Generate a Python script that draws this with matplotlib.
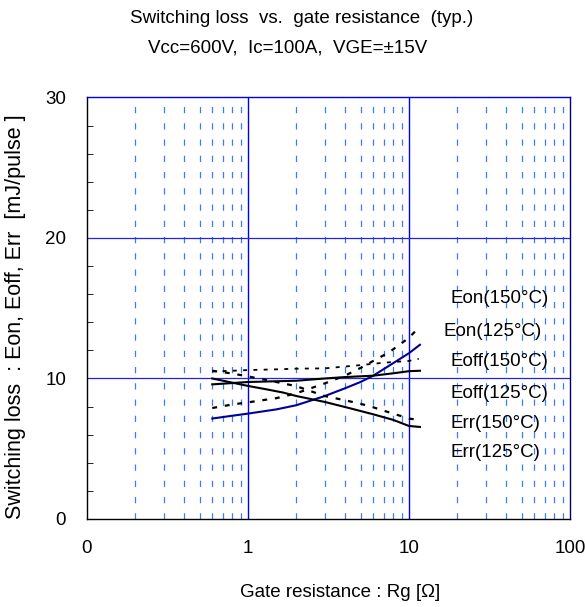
import matplotlib.pyplot as plt
from matplotlib.ticker import FixedLocator, NullFormatter

plt.rcParams['font.family'] = ['Liberation Sans', 'DejaVu Sans']

# Eon 150C (blue solid)
rg_eon150 = [0.6, 0.8, 1, 1.5, 2, 3, 4, 5, 6, 8, 10, 11.7]
eon150 = [7.15, 7.35, 7.5, 7.8, 8.1, 8.75, 9.3, 9.75, 10.2, 11.1, 11.8, 12.4]
# Eon 125C (dotted)
rg_eon125 = [0.6, 0.8, 1, 1.5, 2, 3, 4, 5, 6, 7.5, 10, 11.7]
eon125 = [7.9, 8.15, 8.3, 8.6, 8.95, 9.65, 10.2, 10.75, 11.25, 11.85, 12.9, 13.7]
# Eoff 150C (black solid)
rg_eoff150 = [0.6, 1, 2, 3, 4, 6, 8, 10, 11.7]
eoff150 = [9.58, 9.75, 9.84, 10.0, 10.1, 10.2, 10.37, 10.52, 10.55]
# Eoff 125C (dotted)
rg_eoff125 = [0.6, 0.8, 1, 1.5, 2, 3, 4, 5, 6, 7.5, 10, 11.5]
eoff125 = [10.5, 10.55, 10.6, 10.65, 10.7, 10.72, 10.85, 10.95, 11.05, 11.15, 11.25, 11.4]
# Err 150C (black solid)
rg_err150 = [0.6, 1, 1.3, 1.65, 2, 3, 4.3, 6, 8, 10, 11.7]
err150 = [10.0, 9.47, 9.23, 9.0, 8.75, 8.33, 7.88, 7.45, 7.05, 6.62, 6.55]
# Err 125C (dotted)
rg_err125 = [0.6, 0.8, 1, 1.5, 2, 3, 4, 5, 6, 7, 8.5, 10, 11.5]
err125 = [10.55, 10.35, 10.15, 9.75, 9.45, 8.75, 8.45, 8.2, 7.95, 7.7, 7.4, 7.15, 7.05]

curve_labels = ['Eon(150°C)', 'Eon(125°C)', 'Eoff(150°C)', 'Eoff(125°C)', 'Err(150°C)', 'Err(125°C)']
label_y = [15.7, 13.35, 11.2, 8.95, 6.8, 4.7]
label_x = [18.0, 16.4, 18.0, 18.0, 18.0, 18.0]

xticks = [0.1, 1, 10, 100]
xticklabels = ['0', '1', '10', '100']
yticks = [0, 10, 20, 30]

fig = plt.figure(figsize=(5.85, 6.07), dpi=100)
ax = fig.add_axes([0.1487, 0.145, 0.8256, 0.6944])

ax.set_xscale('log')
ax.set_xlim(0.1, 100)
ax.set_ylim(0, 30)

minor_x = [m * d for d in (0.1, 1, 10) for m in range(2, 10)]
for xv in minor_x:
    ax.axvline(xv, color='#3a7bff', lw=0.9, ls=(0, (5, 8)), zorder=1)
for xv in (1, 10):
    ax.axvline(xv, color='#0000ee', lw=1.0, zorder=1)
for yv in (10, 20):
    ax.axhline(yv, color='#2222ee', lw=0.9, zorder=1)

dot = (0, (2.2, 3.5))
ax.plot(rg_eon150, eon150, color='#000099', lw=1.5, zorder=3)
ax.plot(rg_eon125, eon125, color='black', lw=1.6, ls=dot, zorder=3)
ax.plot(rg_eoff150, eoff150, color='black', lw=1.5, zorder=3)
ax.plot(rg_eoff125, eoff125, color='black', lw=1.3, ls=dot, zorder=3)
ax.plot(rg_err150, err150, color='black', lw=1.5, zorder=3)
ax.plot(rg_err125, err125, color='black', lw=1.6, ls=dot, zorder=3)

for lab, lx, ly in zip(curve_labels, label_x, label_y):
    ax.text(lx, ly, lab, fontsize=13.5, va='center', ha='left', color='black', zorder=4)

ax.xaxis.set_major_locator(FixedLocator(xticks))
ax.set_xticklabels(xticklabels)
ax.xaxis.set_minor_formatter(NullFormatter())
ax.tick_params(axis='x', which='both', length=0, pad=15, labelsize=13.5)
ax.set_yticks(yticks)
ax.set_yticks(range(0, 31, 2), minor=True)
ax.tick_params(axis='y', which='major', direction='in', length=0, pad=15, labelsize=13.5)
ax.tick_params(axis='y', which='minor', direction='in', length=4)

ax.spines['top'].set_color('#0000ee')
ax.spines['right'].set_color('#000066')
for s in ax.spines.values():
    s.set_linewidth(1.0)

fig.text(0.516, 0.970, 'Switching loss  vs.  gate resistance  (typ.)', ha='center', va='center', fontsize=13.5)
fig.text(0.491, 0.921, 'Vcc=600V,  Ic=100A,  VGE=±15V', ha='center', va='center', fontsize=13.5)
fig.text(0.581, 0.024, 'Gate resistance : Rg [Ω]', ha='center', va='center', fontsize=13.5)
fig.text(0.027, 0.479, 'Switching loss  : Eon, Eoff, Err  [mJ/pulse ]', ha='center', va='center',
         rotation=90, fontsize=15.5)

fig.savefig('out.png', dpi=100)
